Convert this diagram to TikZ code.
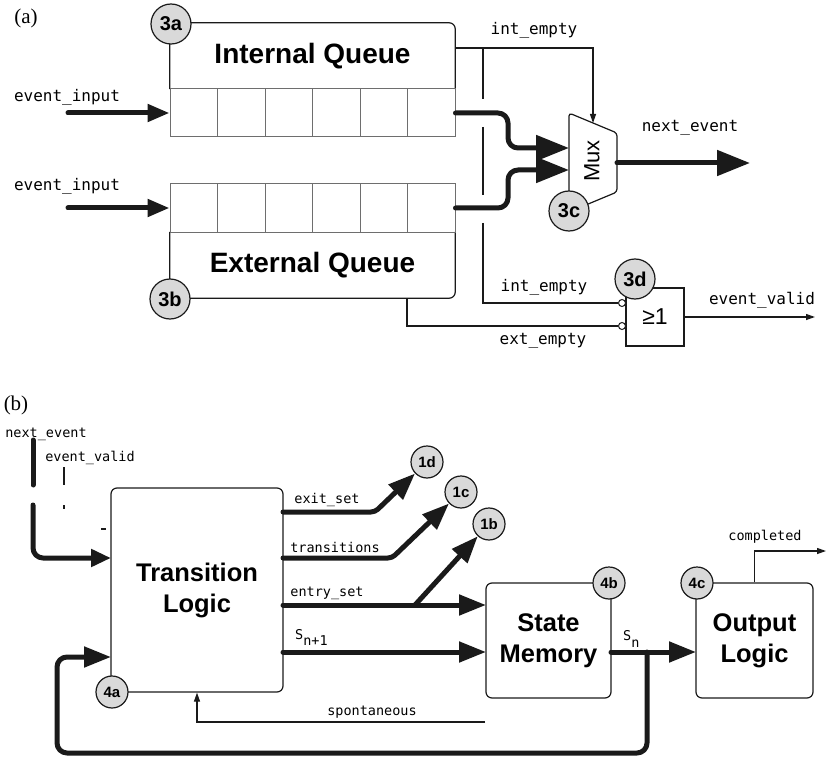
\documentclass[tikz,border=0pt]{standalone}
\usepackage{fontspec}
\setmainfont{Liberation Serif}
\setsansfont{Liberation Sans}
\setmonofont{DejaVu Sans Mono}
\usetikzlibrary{arrows.meta}

\definecolor{ink}{HTML}{1A1A1A}
\definecolor{tagfill}{HTML}{D9D9D9}
\definecolor{cellgray}{HTML}{6E6E6E}

\tikzset{
  fat/.style={line width=5pt, draw=ink, line cap=round, line join=round},
  wire/.style={line width=1.2pt, draw=ink},
  frame/.style={line width=1.2pt, draw=ink, rounded corners=6pt},
  qcell/.style={draw=cellgray, line width=1pt, minimum width=47.5pt, minimum height=48pt, inner sep=0pt},
  tagA/.style={circle, draw=ink, fill=tagfill, line width=1.2pt, minimum size=40pt, inner sep=0pt, font=\sffamily\bfseries\fontsize{20}{22}\selectfont},
  tagB/.style={tagA, minimum size=32pt, font=\sffamily\bfseries\fontsize{15}{17}\selectfont},
  sigA/.style={font=\ttfamily\fontsize{16}{18}\selectfont, inner sep=0pt},
  sigB/.style={font=\ttfamily\fontsize{13.5}{15}\selectfont, inner sep=0pt},
  title/.style={font=\sffamily\bfseries\fontsize{28}{32}\selectfont, minimum width=285pt, minimum height=66pt},
  block/.style={draw=ink, line width=1.2pt, rounded corners=6pt, inner sep=0pt, align=center, font=\sffamily\bfseries\fontsize{25.5}{31}\selectfont},
  panel/.style={font=\fontsize{21}{24}\selectfont, inner sep=0pt},
  inA/.tip={Triangle[length=22pt,width=17pt]},
  muxA/.tip={Triangle[length=33pt,width=25pt]},
  inB/.tip={Triangle[length=20pt,width=17pt]},
  midB/.tip={Triangle[length=27pt,width=20pt]},
  wtip/.tip={Triangle[length=9pt,width=6pt]}
}

\begin{document}
\begin{tikzpicture}[x=1pt, y=-1pt]
            \useasboundingbox (0,0) rectangle (828,757);

            \node[panel] (pa) at (26,18) {(a)};
            \node[title] (intq) at (312.5,56) {Internal Queue};
            \draw[frame] (intq.south west) |- (intq.north east) -- (intq.south east);
            \node[title] (extq) at (312.5,265) {External Queue};
            \draw[frame] (extq.north west) |- (extq.south east) -- (extq.north east);
            \foreach \i in {0,...,5} {
                \node[qcell] (ic\i) at ({193.75+47.5*\i},113) {};
                \node[qcell] (ec\i) at ({193.75+47.5*\i},208) {};
            }

            \draw[wire, rounded corners=3pt, fill=white] (569,113) -- (617,133) -- (617,192) -- (569,212) -- cycle;
            \node[font=\sffamily\fontsize{22}{24}\selectfont, rotate=90] (mux) at (592,161) {Mux};
            \node[draw=ink, line width=1.2pt, minimum size=58pt, inner sep=0pt, font=\sffamily\fontsize{23}{25}\selectfont] (orgate) at (655,317) {≥1};
            \node[circle, draw=ink, fill=white, line width=1pt, minimum size=7pt, inner sep=0pt] (nb1) at (622,303) {};
            \node[circle, draw=ink, fill=white, line width=1pt, minimum size=7pt, inner sep=0pt] (nb2) at (622,326) {};

            \node[tagA] (t3a) at (171,24) {3a};
            \node[tagA] (t3b) at (170,299) {3b};
            \node[tagA] (t3c) at (569,211) {3c};
            \node[tagA] (t3d) at (635,279) {3d};

            \coordinate (in1) at (68,113);
            \coordinate (in2) at (68,208);
            \coordinate (iqe) at (455,48);
            \coordinate (ij) at (483,48);
            \coordinate (msel) at (593,123);
            \coordinate (mi1) at (569,148);
            \coordinate (mi2) at (569,170);
            \coordinate (mo) at (617,163);
            \coordinate (neo) at (750,163);
            \coordinate (eqb) at (407,298);
            \coordinate (evo) at (815,317);

            \draw[fat, -{inA}] (in1) -- (ic0.west);
            \draw[fat, -{inA}] (in2) -- (ec0.west);
            \draw[fat, rounded corners=10pt, -{muxA}] (ic5.east) -- (508,113) |- (mi1);
            \draw[fat, rounded corners=10pt, -{muxA}] (ec5.east) -- (508,208) |- (mi2);
            \draw[fat, -{muxA}] (mo) -- (neo);
            \draw[wire, -{wtip}] (iqe) -| (msel);
            \draw[wire] (ij) -- (483,99);
            \draw[wire] (483,127) -- (483,195);
            \draw[wire] (483,223) |- (nb1.west);
            \draw[wire] (eqb) |- (nb2.west);
            \draw[wire, -{wtip}] (orgate.east) -- (evo);

            \node[sigA] (lin1) at (67,97) {event\_input};
            \node[sigA] (lin2) at (67,186) {event\_input};
            \node[sigA] (lie1) at (534,30) {int\_empty};
            \node[sigA] (lie2) at (544,287) {int\_empty};
            \node[sigA] (lee) at (543,341) {ext\_empty};
            \node[sigA] (lne) at (690,128) {next\_event};
            \node[sigA] (lev) at (762,300) {event\_valid};

            \node[panel] (pb) at (16,405) {(b)};
            \node[block, minimum width=172pt, minimum height=204pt] (tl) at (197,590) {Transition\\Logic};
            \node[block, minimum width=125pt, minimum height=115pt] (sm) at (548.5,640.5) {State\\Memory};
            \node[block, minimum width=117pt, minimum height=115pt] (ol) at (754.5,640.5) {Output\\Logic};

            \node[tagB] (t4a) at (112,692) {4a};
            \node[tagB] (t4b) at (609,583) {4b};
            \node[tagB] (t4c) at (697,583) {4c};
            \node[tagB] (t1d) at (427,462) {1d};
            \node[tagB] (t1c) at (461,492) {1c};
            \node[tagB] (t1b) at (489,524) {1b};

            \coordinate (ne0) at (33,440);
            \coordinate (ne1) at (33,485);
            \coordinate (ne2) at (33,505);
            \coordinate (tlin1) at (111,558);
            \coordinate (xs0) at (283,512);
            \coordinate (xs1) at (375,512);
            \coordinate (tr0) at (283,558);
            \coordinate (tr1) at (392,558);
            \coordinate (en0) at (283,605);
            \coordinate (enb) at (415,605);
            \coordinate (smin1) at (486,605);
            \coordinate (sn0) at (283,652);
            \coordinate (smin2) at (486,652);
            \coordinate (sno) at (611,652);
            \coordinate (snj) at (647,652);
            \coordinate (olin) at (696,652);
            \coordinate (lpb) at (57,753);
            \coordinate (tlin2) at (111,657);
            \coordinate (sp0) at (485,722);
            \coordinate (cpo) at (826,551);

            \draw[fat] (ne0) -- (ne1);
            \draw[fat, rounded corners=10pt, -{inB}] (ne2) |- (tlin1);
            \draw[wire] (64,467) -- (64,485);
            \draw[wire] (64,505) -- (64,509);
            \draw[wire] (101,529) -- (106,529);
            \draw[fat, rounded corners=4pt, -{midB}] (xs0) -- (xs1) -- (t1d);
            \draw[fat, rounded corners=4pt, -{midB}] (tr0) -- (tr1) -- (t1c);
            \draw[fat, -{midB}] (en0) -- (smin1);
            \draw[fat, -{midB}] (enb) -- (t1b);
            \draw[fat, -{midB}] (sn0) -- (smin2);
            \draw[fat, -{midB}] (sno) -- (olin);
            \draw[fat, rounded corners=10pt, -{midB}] (snj) |- (lpb) |- (tlin2);
            \draw[wire, -{wtip}] (sp0) -| (tl.south);
            \draw[wire, -{wtip}] (ol.north) |- (cpo);

            \node[sigB] (lne2) at (46,434) {next\_event};
            \node[sigB] (lev2) at (90,458) {event\_valid};
            \node[sigB] (lxs) at (327,500) {exit\_set};
            \node[sigB] (ltr) at (335,547) {transitions};
            \node[sigB] (len) at (327,593) {entry\_set};
            \node[sigB, anchor=base west] (lsn1) at (295,639) {S\raisebox{-6pt}{n+1}};
            \node[sigB, anchor=base west] (lsn) at (623,640) {S\raisebox{-7pt}{n}};
            \node[sigB] (lsp) at (372,712) {spontaneous};
            \node[sigB] (lcp) at (765,537) {completed};
        \end{tikzpicture}
\end{document}
